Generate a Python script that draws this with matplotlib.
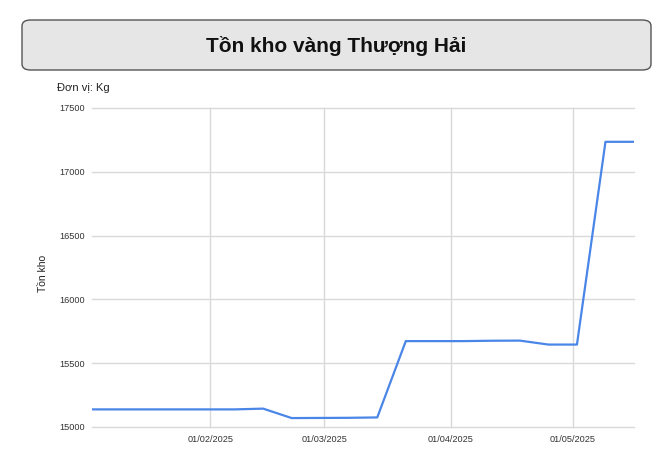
import matplotlib
matplotlib.use("Agg")
import matplotlib.pyplot as plt
from matplotlib.patches import FancyBboxPatch
import pandas as pd

plt.rcParams['font.family'] = ['Liberation Sans', 'DejaVu Sans']

dates = ["2025-01-03", "2025-01-10", "2025-01-17", "2025-01-24", "2025-01-31",
         "2025-02-07", "2025-02-14", "2025-02-21", "2025-02-28", "2025-03-07",
         "2025-03-14", "2025-03-21", "2025-03-28", "2025-04-04", "2025-04-11",
         "2025-04-18", "2025-04-25", "2025-05-02", "2025-05-09", "2025-05-16"]
stock = [15138, 15138, 15138, 15138, 15138, 15138, 15144, 15070, 15071, 15072,
         15075, 15673, 15673, 15673, 15676, 15677, 15646, 15646, 17235, 17235]
xtick_dates = ["2025-02-01", "2025-03-01", "2025-04-01", "2025-05-01"]
yticks = [15000, 15500, 16000, 16500, 17000, 17500]

title = "Tồn kho vàng Thượng Hải"
unit_label = "Đơn vị: Kg"
ylabel = "Tồn kho"

x = pd.to_datetime(dates)
xt = pd.to_datetime(xtick_dates)

W, H = 664, 457
fig = plt.figure(figsize=(W / 100, H / 100), dpi=100)
fig.patch.set_facecolor("white")

# Title box
box = FancyBboxPatch((22 / W, 1 - 70 / H), (651 - 22) / W, 50 / H,
                     boxstyle="round,pad=0,rounding_size=0.013",
                     transform=fig.transFigure, facecolor="#e6e6e6",
                     edgecolor="#555555", linewidth=1.0)
fig.patches.append(box)
fig.text(336 / W, 1 - 46 / H, title, ha="center", va="center",
         fontsize=15, fontweight="bold", color="#111111")

ax = fig.add_axes([92 / W, 1 - 427 / H, (634 - 92) / W, (427 - 108) / H])
ax.plot(x, stock, color="#4a86e8", linewidth=1.6, zorder=3)

ax.set_ylim(15000, 17500)
ax.set_yticks(yticks)
ax.set_yticklabels([str(v) for v in yticks])
ax.set_xlim(x[0], x[-1])
ax.set_xticks(xt)
ax.set_xticklabels([d.strftime("%d/%m/%Y") for d in xt])

ax.grid(True, color="#d9d9d9", linewidth=1.0, zorder=0)
for gl in ax.get_ygridlines() + ax.get_xgridlines():
    gl.set_clip_on(False)
for s in ax.spines.values():
    s.set_visible(False)
ax.tick_params(axis="both", length=0, labelsize=6.6, colors="#333333")
ax.tick_params(axis="y", pad=5)
ax.tick_params(axis="x", pad=6)

fig.text(57 / W, 1 - 88 / H, unit_label, ha="left", va="center",
         fontsize=8, color="#222222")
fig.text(43.5 / W, 1 - 273 / H, ylabel, ha="center", va="center",
         rotation=90, fontsize=7.5, color="#222222")

fig.savefig("out.png", dpi=100)
